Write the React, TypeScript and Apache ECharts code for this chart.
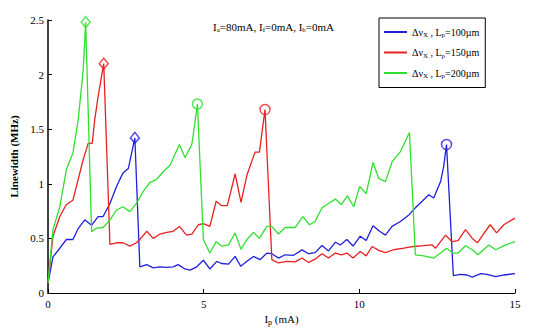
import React, { useEffect, useRef } from "react";
import * as echarts from "echarts";

const xTicks = [0, 5, 10, 15];
const yTicks = [0, 0.5, 1, 1.5, 2, 2.5];

const seriesNames = ["L100", "L150", "L200"];
const seriesColors = ["#1f1fdd", "#e82020", "#2fe02f"];
const seriesLengths = ["100", "150", "200"];

const blue100: number[][] = [
  [0, 0.09], [0.16, 0.33], [0.38, 0.41], [0.59, 0.49], [0.8, 0.49], [0.97, 0.59], [1.18, 0.67], [1.4, 0.62],
  [1.61, 0.7], [1.77, 0.7], [1.99, 0.82], [2.2, 0.975], [2.41, 1.1], [2.58, 1.14], [2.79, 1.42], [2.95, 0.24],
  [3.17, 0.26], [3.38, 0.23], [3.59, 0.24], [3.8, 0.235], [4.02, 0.24], [4.18, 0.26], [4.4, 0.22], [4.56, 0.21],
  [4.78, 0.24], [4.99, 0.3], [5.2, 0.22], [5.42, 0.29], [5.58, 0.27], [5.8, 0.265], [6.01, 0.335], [6.19, 0.245],
  [6.39, 0.29], [6.6, 0.335], [6.81, 0.305], [7.03, 0.365], [7.19, 0.36], [7.4, 0.32], [7.62, 0.35], [7.89, 0.345],
  [8.16, 0.395], [8.37, 0.36], [8.58, 0.37], [8.8, 0.435], [9.01, 0.385], [9.23, 0.465], [9.39, 0.44], [9.6, 0.49],
  [9.8, 0.43], [10.03, 0.52], [10.22, 0.48], [10.44, 0.615], [10.65, 0.565], [10.84, 0.53], [11.05, 0.61],
  [11.32, 0.655], [11.59, 0.715], [11.8, 0.78], [12.02, 0.84], [12.23, 0.9], [12.39, 0.87], [12.61, 1.02],
  [12.71, 1.16], [12.8, 1.36], [13.02, 0.16], [13.25, 0.17], [13.46, 0.165], [13.63, 0.146], [13.9, 0.177],
  [14.1, 0.17], [14.38, 0.15], [14.65, 0.165], [15, 0.177],
];

const red150: number[][] = [
  [0, 0.09], [0.16, 0.52], [0.38, 0.7], [0.59, 0.81], [0.8, 0.85], [0.97, 1.04], [1.13, 1.22], [1.29, 1.37],
  [1.42, 1.37], [1.5, 1.585], [1.61, 1.8], [1.79, 2.1], [1.99, 0.445], [2.2, 0.46], [2.41, 0.46], [2.63, 0.43],
  [2.84, 0.46], [2.95, 0.49], [3.17, 0.565], [3.38, 0.5], [3.6, 0.54], [3.81, 0.555], [4.02, 0.565], [4.22, 0.61],
  [4.45, 0.53], [4.62, 0.54], [4.83, 0.625], [4.99, 0.635], [5.2, 0.61], [5.4, 0.84], [5.58, 0.8], [5.76, 0.8],
  [6.01, 1.09], [6.2, 0.83], [6.39, 1.08], [6.65, 1.29], [6.79, 1.29], [6.97, 1.68], [7.19, 0.305], [7.4, 0.275],
  [7.67, 0.29], [7.94, 0.285], [8.16, 0.32], [8.37, 0.28], [8.58, 0.31], [8.8, 0.36], [9.01, 0.32], [9.23, 0.366],
  [9.42, 0.35], [9.6, 0.366], [9.8, 0.32], [10.03, 0.38], [10.22, 0.34], [10.41, 0.426], [10.62, 0.39],
  [10.84, 0.37], [11.1, 0.396], [11.43, 0.41], [11.75, 0.426], [12.07, 0.433], [12.34, 0.44], [12.45, 0.41],
  [12.77, 0.53], [12.98, 0.47], [13.17, 0.48], [13.41, 0.58], [13.63, 0.5], [13.79, 0.46], [14.2, 0.625],
  [14.41, 0.55], [14.64, 0.625], [15, 0.686],
];

const green200: number[][] = [
  [0, 0.09], [0.16, 0.58], [0.38, 0.79], [0.59, 1.13], [0.8, 1.28], [0.97, 1.585], [1.13, 2.04], [1.21, 2.48],
  [1.4, 0.56], [1.56, 0.595], [1.77, 0.6], [1.99, 0.67], [2.2, 0.76], [2.41, 0.79], [2.63, 0.745], [2.84, 0.82],
  [3.06, 0.93], [3.27, 1.01], [3.49, 1.04], [3.7, 1.11], [3.92, 1.17], [4.22, 1.36], [4.4, 1.24], [4.62, 1.36],
  [4.8, 1.73], [4.99, 0.49], [5.2, 0.366], [5.4, 0.47], [5.58, 0.43], [5.8, 0.44], [6.01, 0.55], [6.2, 0.4],
  [6.39, 0.49], [6.6, 0.555], [6.79, 0.5], [7.03, 0.61], [7.19, 0.61], [7.4, 0.54], [7.62, 0.6], [7.94, 0.6],
  [8.19, 0.7], [8.4, 0.625], [8.58, 0.655], [8.8, 0.78], [9.01, 0.82], [9.23, 0.86], [9.42, 0.81], [9.62, 0.89],
  [9.82, 0.79], [10.01, 0.975], [10.22, 0.91], [10.44, 1.195], [10.62, 1.05], [10.84, 1.02], [11.05, 1.2],
  [11.32, 1.295], [11.61, 1.47], [11.8, 0.35], [12.07, 0.34], [12.39, 0.32], [12.61, 0.366], [12.8, 0.41],
  [13.0, 0.366], [13.17, 0.366], [13.41, 0.433], [13.63, 0.396], [13.81, 0.35], [14.16, 0.44], [14.38, 0.396],
  [14.7, 0.44], [15, 0.47],
];

// x positions of marked peaks: [diamond, circle]
const bluePeaks = [2.79, 12.8];
const redPeaks = [1.79, 6.97];
const greenPeaks = [1.21, 4.8];

const allData = [blue100, red150, green200];
const allPeaks = [bluePeaks, redPeaks, greenPeaks];

const FONT = "Liberation Serif";

export default function App() {
  const ref = useRef<HTMLDivElement>(null);
  useEffect(() => {
    if (!ref.current) return;
    document.body.style.margin = "0";
    const chart = echarts.init(ref.current, undefined, { renderer: "svg" });

    const lineSeries = allData.map((d, i) => ({
      name: seriesNames[i],
      type: "line",
      data: d,
      showSymbol: false,
      symbol: "none",
      lineStyle: { color: seriesColors[i], width: 1.3 },
      itemStyle: { color: seriesColors[i] },
      z: 2,
    }));

    const markerSeries: any[] = [];
    allData.forEach((d, i) => {
      const peaks = allPeaks[i];
      ["diamond", "circle"].forEach((sym, k) => {
        const pt = d.find((p) => p[0] === peaks[k]);
        if (!pt) return;
        markerSeries.push({
          name: seriesNames[i] + "_m" + k,
          type: "scatter",
          data: [pt],
          symbol: sym,
          symbolSize: sym === "diamond" ? [9, 11] : 10,
          itemStyle: { color: "rgba(255,255,255,0)", borderColor: seriesColors[i], borderWidth: 1.5 },
          z: 3,
        });
      });
    });

    const option: any = {
      animation: false,
      backgroundColor: "#ffffff",
      textStyle: { fontFamily: FONT },
      grid: { left: 48, right: 24, top: 20, bottom: 40, containLabel: false },
      legend: {
        data: seriesNames,
        orient: "vertical",
        left: 379,
        top: 18,
        width: 117,
        padding: [9, 6, 8, 5],
        itemWidth: 23,
        itemHeight: 2,
        itemGap: 9,
        icon: "rect",
        borderColor: "#000",
        borderWidth: 1,
        backgroundColor: "#fff",
        formatter: (name: string) => {
          const i = seriesNames.indexOf(name);
          return "Δν{sub|X} , L{sub|p}=" + seriesLengths[i] + "µm";
        },
        textStyle: {
          fontFamily: FONT,
          fontSize: 10,
          color: "#000",
          rich: {
            sub: { fontSize: 7, verticalAlign: "bottom", padding: [6, 0, 0, 0], fontFamily: FONT },
          },
        },
      },
      xAxis: {
        type: "value",
        min: 0,
        max: 15,
        interval: 5,
        name: "I{sub|p} (mA)",
        nameLocation: "middle",
        nameGap: 17,
        nameTextStyle: {
          fontFamily: FONT,
          fontSize: 11,
          color: "#000",
          rich: { sub: { fontSize: 8, padding: [7, 0, 0, 0], fontFamily: FONT } },
        },
        axisLine: { lineStyle: { color: "#000", width: 1 }, onZero: false },
        axisTick: { inside: true, length: 4, lineStyle: { color: "#000" } },
        axisLabel: { color: "#000", fontSize: 11, margin: 5, fontFamily: FONT },
        splitLine: { show: false },
      },
      yAxis: {
        type: "value",
        min: 0,
        max: 2.5,
        interval: 0.5,
        name: "Linewidth (MHz)",
        nameLocation: "middle",
        nameGap: 27,
        nameTextStyle: { fontFamily: FONT, fontSize: 11, color: "#000", fontWeight: "bold" },
        axisLine: { lineStyle: { color: "#000", width: 1.5 } },
        axisTick: { inside: true, length: 4, lineStyle: { color: "#000" } },
        axisLabel: {
          color: "#000",
          fontSize: 11,
          margin: 4,
          fontFamily: FONT,
          formatter: (v: number) => String(v),
        },
        splitLine: { show: false },
      },
      graphic: [
        {
          type: "text",
          left: 213,
          top: 21,
          style: {
            text: "I{sub|a}=80mA, I{sub|f}=0mA, I{sub|b}=0mA",
            fontFamily: FONT,
            fontSize: 11,
            fill: "#000",
            rich: { sub: { fontSize: 7, padding: [7, 0, 0, 0], fontFamily: FONT } },
          },
        },
      ],
      series: [...lineSeries, ...markerSeries],
    };
    chart.setOption(option);
    return () => chart.dispose();
  }, []);
  return <div ref={ref} style={{ width: 539, height: 333 }} />;
}
